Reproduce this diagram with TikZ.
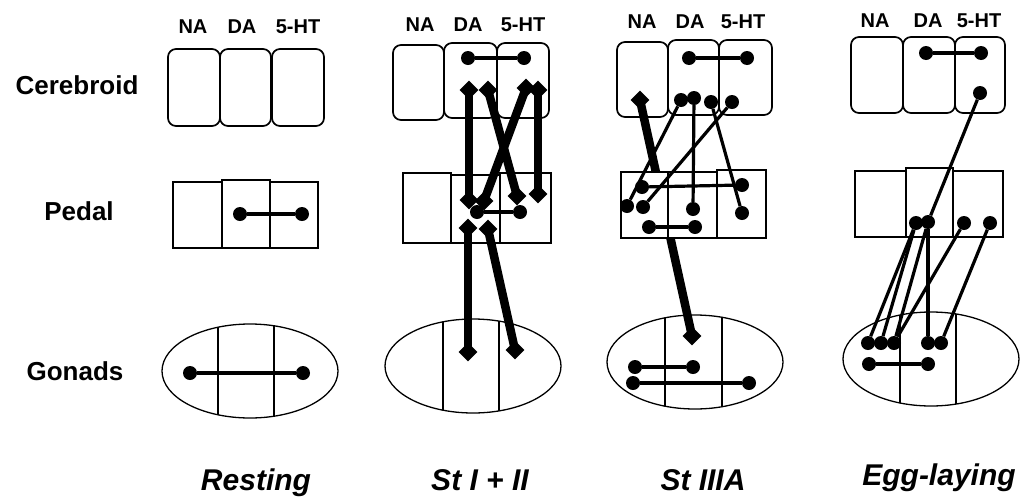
\documentclass[tikz,border=0pt]{standalone}
\usepackage{fontspec}
\setmainfont{Liberation Sans}
\usetikzlibrary{shapes.geometric}

\begin{document}
\begin{tikzpicture}[x=1pt,y=-1pt]
  \tikzstyle{wall}=[draw=black,line width=1.7pt]
  \tikzstyle{cbox}=[wall,rounded corners=8pt]
  \tikzstyle{pbox}=[wall,fill=white]
  \tikzstyle{shell}=[draw=black,line width=1.3pt]
  \tikzstyle{dot}=[circle,fill=black,inner sep=0pt,minimum size=14pt]
  \tikzstyle{dia}=[diamond,fill=black,inner sep=0pt,minimum size=19pt]
  \tikzstyle{link}=[line width=3.2pt]
  \tikzstyle{bulk}=[line width=8.5pt,shorten >=-5pt,shorten <=-5pt]
  \tikzstyle{organ}=[font=\fontsize{26}{30}\selectfont\bfseries,anchor=base]
  \tikzstyle{amine}=[font=\fontsize{20}{24}\selectfont\bfseries,anchor=base]
  \tikzstyle{phase}=[font=\fontsize{30}{36}\selectfont\bfseries\itshape,anchor=base]

  \useasboundingbox (0,0) rectangle (1031,496);

  \node[organ] (cereb) at (77,94)  {Cerebroid};
  \node[organ] (pedal) at (79,220) {Pedal};
  \node[organ] (gonad) at (75,380) {Gonads};

  \node[phase] (rest) at (256,490) {Resting};
  \node[phase] (st12) at (480,490) {St I + II};
  \node[phase] (st3)  at (703,490) {St IIIA};
  \node[phase] (egg)  at (939,485) {Egg-laying};

  \foreach \a/\b/\c/\y in {193/242/298/33, 420/468/523/31, 642/690/743/28, 875/928/979/27}{
    \node[amine] (na\a) at (\a,\y) {NA};
    \node[amine] (da\a) at (\b,\y) {DA};
    \node[amine] (ht\a) at (\c,\y) {5-HT};
  }

  % gonads
  \foreach \cx/\cy/\xa/\xb in {250/371/218/274, 473/366/443/499, 695/362/665/722, 931/359/900/956}{
    \begin{scope}
      \clip (\cx,\cy) ellipse [x radius=88pt, y radius=47pt];
      \draw[shell] (\xa,\cy-60) -- (\xa,\cy+60) (\xb,\cy-60) -- (\xb,\cy+60);
    \end{scope}
    \draw[shell] (\cx,\cy) ellipse [x radius=88pt, y radius=47pt];
  }

  % resting
  \draw[cbox] (168,49) rectangle (220,126);
  \draw[cbox] (220,49) rectangle (271,126);
  \draw[cbox] (272,49) rectangle (324,126);
  \draw[pbox] (173,182) rectangle (222,248);
  \draw[pbox] (270,182) rectangle (318,248);
  \draw[pbox] (222,180) rectangle (270,248);

  \node[dot] (rp1) at (240,214) {};
  \node[dot] (rp2) at (302,214) {};
  \node[dot] (rg1) at (190,373) {};
  \node[dot] (rg2) at (303,373) {};
  \draw[link] (rp1) -- (rp2);
  \draw[link] (rg1) -- (rg2);

  % st I + II
  \draw[cbox] (393,45) rectangle (444,120);
  \draw[cbox] (444,43) rectangle (497,118);
  \draw[cbox] (497,43) rectangle (549,118);
  \draw[pbox] (403,173) rectangle (451,243);
  \draw[pbox] (500,173) rectangle (551,243);
  \draw[pbox] (451,175) rectangle (500,243);

  \node[dot] (sc1) at (468,58) {};
  \node[dot] (sc2) at (524,58) {};
  \draw[link] (sc1) -- (sc2);

  \node[dia] (sa1) at (469,90) {};
  \node[dia] (sa2) at (488,90) {};
  \node[dia] (sa3) at (526,88) {};
  \node[dia] (sa4) at (538,90) {};
  \node[dia] (sb1) at (469,200) {};
  \node[dia] (sb2) at (517,196) {};
  \node[dia] (sb3) at (484,201) {};
  \node[dia] (sb4) at (538,194) {};
  \node[dia] (sd1) at (468,228) {};
  \node[dia] (sd2) at (488,229) {};
  \node[dia] (sg1) at (468,352) {};
  \node[dia] (sg2) at (515,350) {};
  \path[bulk]
  (sa1) edge (sb1)
  (sa2) edge (sb2)
  (sa3) edge (sb3)
  (sa4) edge (sb4)
  (sd1) edge (sg1)
  (sd2) edge (sg2);

  \node[dot] (sp1) at (477,212) {};
  \node[dot] (sp2) at (520,212) {};
  \draw[link] (sp1) -- (sp2);

  % st IIIA
  \draw[cbox] (617,42) rectangle (668,117);
  \draw[cbox] (668,40) rectangle (719,115);
  \draw[cbox] (719,40) rectangle (772,115);

  \node[dia] (ta1) at (640,100) {};
  \node[dia] (tg1) at (692,336) {};
  \draw[bulk] (ta1) -- (tg1);

  \draw[pbox] (621,172) rectangle (668,238);
  \draw[pbox] (668,172) rectangle (717,238);
  \draw[pbox] (717,170) rectangle (766,238);

  \node[dot] (tc1) at (689,58) {};
  \node[dot] (tc2) at (747,58) {};
  \node[dot] (tc3) at (681,100) {};
  \node[dot] (tc4) at (694,98) {};
  \node[dot] (tc5) at (711,102) {};
  \node[dot] (tc6) at (732,102) {};
  \node[dot] (tp1) at (642,187) {};
  \node[dot] (tp2) at (627,206) {};
  \node[dot] (tp3) at (643,207) {};
  \node[dot] (tp4) at (693,209) {};
  \node[dot] (tp5) at (742,185) {};
  \node[dot] (tp6) at (742,213) {};
  \node[dot] (tp7) at (649,227) {};
  \node[dot] (tp8) at (695,227) {};
  \node[dot] (tg2) at (635,367) {};
  \node[dot] (tg3) at (693,367) {};
  \node[dot] (tg4) at (633,383) {};
  \node[dot] (tg5) at (749,383) {};
  \path[link]
  (tc1) edge (tc2)
  (tc3) edge (tp2)
  (tc4) edge (tp4)
  (tc5) edge (tp6)
  (tc6) edge (tp3)
  (tp1) edge (tp5)
  (tp7) edge (tp8)
  (tg2) edge (tg3)
  (tg4) edge (tg5);

  % egg-laying
  \draw[cbox] (851,37) rectangle (903,113);
  \draw[cbox] (903,37) rectangle (955,113);
  \draw[cbox] (955,37) rectangle (1005,113);
  \draw[pbox] (855,171) rectangle (906,237);
  \draw[pbox] (953,171) rectangle (1003,237);
  \draw[pbox] (906,168) rectangle (953,237);

  \node[dot] (ec1) at (926,53) {};
  \node[dot] (ec2) at (981,53) {};
  \node[dot] (ec3) at (980,93) {};
  \node[dot] (ep1) at (916,223) {};
  \node[dot] (ep2) at (928,222) {};
  \node[dot] (ep3) at (964,223) {};
  \node[dot] (ep4) at (990,223) {};
  \node[dot] (eg1) at (868,343) {};
  \node[dot] (eg2) at (881,343) {};
  \node[dot] (eg3) at (894,343) {};
  \node[dot] (eg4) at (928,343) {};
  \node[dot] (eg5) at (941,343) {};
  \node[dot] (eg6) at (869,364) {};
  \node[dot] (eg7) at (928,364) {};
  \path[link]
  (ec1) edge (ec2)
  (ec3) edge (ep2)
  (ep1) edge (eg1)
  (ep1) edge (eg2)
  (ep2) edge (eg3)
  (ep2) edge (eg4)
  (ep3) edge (eg3)
  (ep4) edge (eg5)
  (eg6) edge (eg7);
\end{tikzpicture}
\end{document}
